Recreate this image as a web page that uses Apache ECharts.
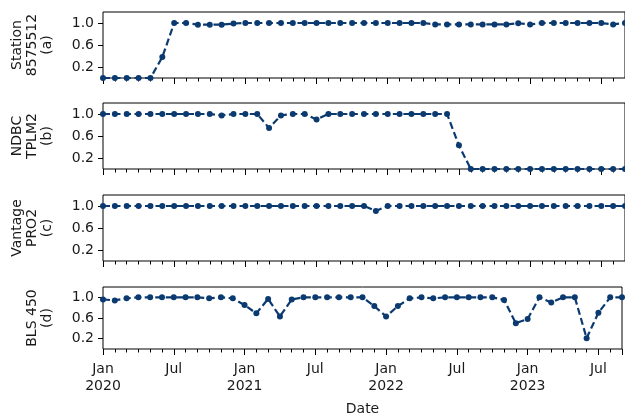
<!DOCTYPE html>
<html>
<head>
<meta charset="utf-8">
<script src="https://cdn.jsdelivr.net/npm/echarts@6/dist/echarts.min.js"></script>
<style>
  html, body { margin: 0; padding: 0; background: #fff; }
  #chart { width: 625px; height: 417px; }
</style>
</head>
<body>
<div id="chart"></div>
<script>
// Monthly data availability fraction per instrument, Jan 2020 - Sep 2023
const months = [
  '2020-01','2020-02','2020-03','2020-04','2020-05','2020-06','2020-07','2020-08','2020-09','2020-10','2020-11','2020-12',
  '2021-01','2021-02','2021-03','2021-04','2021-05','2021-06','2021-07','2021-08','2021-09','2021-10','2021-11','2021-12',
  '2022-01','2022-02','2022-03','2022-04','2022-05','2022-06','2022-07','2022-08','2022-09','2022-10','2022-11','2022-12',
  '2023-01','2023-02','2023-03','2023-04','2023-05','2023-06','2023-07','2023-08','2023-09'
];

const station8575512 = [
  0, 0, 0, 0, 0, 0.38, 1.0, 1.0, 0.97, 0.97, 0.97, 0.99,
  1.0, 1.0, 1.0, 1.0, 1.0, 1.0, 1.0, 1.0, 1.0, 1.0, 1.0, 1.0,
  1.0, 1.0, 1.0, 1.0, 0.975, 0.975, 0.975, 0.975, 0.975, 0.975, 0.975, 0.995,
  0.975, 1.0, 1.0, 1.0, 1.0, 1.0, 1.0, 0.975, 1.0
];

const ndbcTPLM2 = [
  1.0, 1.0, 1.0, 1.0, 1.0, 1.0, 1.0, 1.0, 1.0, 1.0, 0.975, 1.0,
  1.0, 1.0, 0.745, 0.975, 1.0, 1.0, 0.9, 1.0, 1.0, 1.0, 1.0, 1.0,
  1.0, 1.0, 1.0, 1.0, 1.0, 1.0, 0.43, 0, 0, 0, 0, 0,
  0, 0, 0, 0, 0, 0, 0, 0, 0
];

const vantagePRO2 = [
  1.0, 1.0, 1.0, 1.0, 1.0, 1.0, 1.0, 1.0, 1.0, 1.0, 1.0, 1.0,
  1.0, 1.0, 1.0, 1.0, 1.0, 1.0, 1.0, 1.0, 1.0, 1.0, 1.0, 0.91,
  1.0, 1.0, 1.0, 1.0, 1.0, 1.0, 1.0, 1.0, 1.0, 1.0, 1.0, 1.0,
  1.0, 1.0, 1.0, 1.0, 1.0, 1.0, 1.0, 1.0, 1.0
];

const bls450 = [
  0.96, 0.94, 0.98, 1.0, 1.0, 1.0, 1.0, 1.0, 1.0, 0.98, 1.0, 0.98,
  0.85, 0.69, 0.97, 0.63, 0.96, 1.0, 1.0, 1.0, 1.0, 1.0, 1.0, 0.83,
  0.63, 0.83, 0.98, 1.0, 0.98, 1.0, 1.0, 1.0, 1.0, 1.0, 0.95, 0.50,
  0.58, 1.0, 0.90, 1.0, 1.0, 0.21, 0.70, 1.0, 1.0
];

const panelNames = ['Station\n8575512\n(a)', 'NDBC\nTPLM2\n(b)', 'Vantage\nPRO2\n(c)', 'BLS 450\n(d)'];
const panelSeries = [station8575512, ndbcTPLM2, vantagePRO2, bls450];

const yTicks = [0.2, 0.6, 1.0];
const xTickText = ['Jan\n2020', 'Jul', 'Jan\n2021', 'Jul', 'Jan\n2022', 'Jul', 'Jan\n2023', 'Jul'];

const FONT = 'DejaVu Sans';
const FS = 14;
const TEXT = '#1a1a1a';
const LINE = '#0b3a70';
const panelTops = [12, 103, 195, 287];
const panelHeight = 66;

const grids = [], xAxes = [], yAxes = [], series = [];
panelSeries.forEach((vals, i) => {
  const last = i === panelSeries.length - 1;
  grids.push({
    left: 103, top: panelTops[i], width: 525, height: panelHeight,
    show: true, borderColor: '#000', borderWidth: 1, backgroundColor: 'transparent'
  });
  xAxes.push({
    type: 'value', gridIndex: i, min: 0, max: months.length - 1, interval: 6,
    name: last ? 'Date' : '', nameLocation: 'middle', nameGap: 53,
    nameTextStyle: { fontFamily: FONT, fontSize: FS, color: TEXT },
    axisLine: { show: false },
    axisTick: { show: true, length: 6, lineStyle: { color: '#000', width: 1 } },
    minorTick: { show: true, splitNumber: 6, length: 3.5, lineStyle: { color: '#000', width: 1 } },
    splitLine: { show: false },
    axisLabel: {
      show: last, margin: 12, fontFamily: FONT, fontSize: FS, color: TEXT, lineHeight: 17,
      formatter: v => (v % 6 === 0 && xTickText[v / 6] !== undefined) ? xTickText[v / 6] : ''
    }
  });
  yAxes.push({
    type: 'value', gridIndex: i, min: 0, max: 1.2,
    name: panelNames[i], nameLocation: 'middle', nameGap: 48, nameRotate: 90,
    nameTextStyle: { fontFamily: FONT, fontSize: FS, color: TEXT, lineHeight: 15 },
    axisLine: { show: false },
    axisTick: { show: true, length: 5, customValues: yTicks, lineStyle: { color: '#000', width: 1 } },
    splitLine: { show: false },
    axisLabel: {
      margin: 9, fontFamily: FONT, fontSize: FS, color: TEXT,
      customValues: yTicks, formatter: v => v.toFixed(1)
    }
  });
  series.push({
    type: 'line', xAxisIndex: i, yAxisIndex: i,
    data: vals.map((v, k) => [k, v]),
    symbol: 'circle', symbolSize: 6, showAllSymbol: true, clip: true,
    itemStyle: { color: LINE },
    lineStyle: { color: LINE, width: 2.2, type: [7, 3.5] },
    silent: true, animation: false
  });
});

const chart = echarts.init(document.getElementById('chart'), null, { renderer: 'canvas' });
chart.setOption({
  backgroundColor: '#fff',
  animation: false,
  grid: grids,
  xAxis: xAxes,
  yAxis: yAxes,
  series: series
});
</script>
</body>
</html>
